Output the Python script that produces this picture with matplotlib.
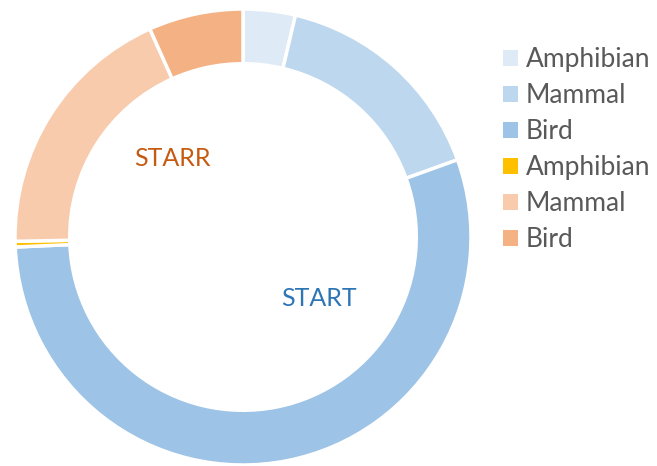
# Donut chart: two series of animal shares
import matplotlib.pyplot as plt
from matplotlib.patches import Patch

# data (percent, clockwise from 12 o'clock)
labels = ["Amphibian", "Mammal", "Bird", "Amphibian", "Mammal", "Bird"]
values = [3.7, 15.8, 54.8, 0.4, 18.6, 6.7]
colors = ["#DEEBF7", "#BDD7EE", "#9DC3E6", "#FFC000", "#F8CBAD", "#F4B183"]

plt.rcParams["font.family"] = ["Lato", "DejaVu Sans"]

W, H = 657, 466
fig = plt.figure(figsize=(W / 100, H / 100), dpi=100)

# donut axes: center (243, 237) px, outer radius 228 px
r = 228
cx, cy = 243, 237
ax = fig.add_axes([(cx - r) / W, (H - cy - r) / H, 2 * r / W, 2 * r / H])
ax.pie(values, colors=colors, startangle=90, counterclock=False, radius=1,
       wedgeprops=dict(width=0.24, edgecolor="white", linewidth=2.5))
ax.set_xlim(-1, 1)
ax.set_ylim(-1, 1)
ax.set_aspect("equal")
ax.axis("off")

# series names inside the ring
ax.text(-0.31, 0.345, "STARR", color="#C55A11", fontsize=18, ha="center", va="center")
ax.text(0.335, -0.27, "START", color="#2E75B6", fontsize=18, ha="center", va="center")

# legend on the right
handles = [Patch(facecolor=c, edgecolor="none") for c in colors]
fig.legend(handles, labels, loc="upper left", bbox_to_anchor=(503 / W, 1 - 47 / H),
           frameon=False, fontsize=19, labelcolor="#595959",
           handlelength=0.55, handleheight=0.55, handletextpad=0.3, labelspacing=0.42,
           borderaxespad=0, borderpad=0)

fig.savefig("out.png", dpi=100)
